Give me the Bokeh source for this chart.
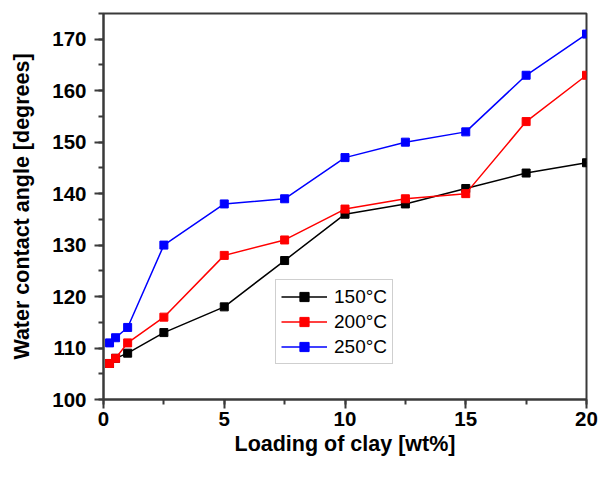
from bokeh.plotting import figure
from bokeh.models import SingleIntervalTicker, Legend, LegendItem, Range1d
from bokeh.embed import file_html
from bokeh.resources import INLINE

loading = [0.25, 0.5, 1, 2.5, 5, 7.5, 10, 12.5, 15, 17.5, 20]
t150 = [107, 108, 109, 113, 118, 127, 136, 138, 141, 144, 146]
t200 = [107, 108, 111, 116, 128, 131, 137, 139, 140, 154, 163]
t250 = [111, 112, 114, 130, 138, 139, 147, 150, 152, 163, 171]
labels = ["150°C", "200°C", "250°C"]
colors = ["#000000", "#FF0000", "#0000FF"]

FONT = "Liberation Sans"
AX = "#3a3a3a"

p = figure(width=598, height=463, output_backend="svg", toolbar_location=None,
           x_range=Range1d(0, 20), y_range=Range1d(100, 175),
           min_border_left=103, min_border_right=12, min_border_top=13, min_border_bottom=64)
p.grid.visible = False
p.outline_line_color = AX
p.outline_line_width = 2
p.background_fill_color = "white"
p.border_fill_color = "white"

p.xaxis.ticker = SingleIntervalTicker(interval=5, num_minor_ticks=2)
p.yaxis.ticker = SingleIntervalTicker(interval=10, num_minor_ticks=2)

for ax in (p.xaxis[0], p.yaxis[0]):
    ax.axis_line_color = AX
    ax.axis_line_width = 2
    ax.major_tick_line_color = AX
    ax.minor_tick_line_color = AX
    ax.major_tick_line_width = 2
    ax.minor_tick_line_width = 2
    ax.major_tick_in = 0
    ax.major_tick_out = 9
    ax.minor_tick_in = 0
    ax.minor_tick_out = 5
    ax.major_label_text_font = FONT
    ax.major_label_text_font_style = "bold"
    ax.major_label_text_font_size = "20.5px"
    ax.major_label_text_color = "#000000"
    ax.axis_label_text_font = FONT
    ax.axis_label_text_font_style = "bold"
    ax.axis_label_text_font_size = "21.5px"
    ax.axis_label_text_color = "#000000"

p.xaxis.axis_label = "Loading of clay [wt%]"
p.yaxis.axis_label = "Water contact angle [degrees]"
p.xaxis.major_label_standoff = 3
p.xaxis.axis_label_standoff = 3
p.yaxis.major_label_standoff = 8
p.yaxis.axis_label_standoff = 15

items = []
for lab, ys, c in zip(labels, [t150, t200, t250], colors):
    r1 = p.line(loading, ys, line_color=c, line_width=1.5)
    r2 = p.scatter(loading, ys, marker="square", size=8, fill_color=c, line_color=c)
    items.append(LegendItem(label=lab, renderers=[r1, r2]))

legend = Legend(items=items, location=(172, 35))
legend.label_text_font = FONT
legend.label_text_font_size = "19px"
legend.label_text_color = "#000000"
legend.glyph_width = 46
legend.glyph_height = 23
legend.label_height = 23
legend.spacing = 2
legend.padding = 5
legend.margin = 0
legend.label_standoff = 7
legend.border_line_color = "#a0a0a0"
legend.border_line_width = 1.5
legend.background_fill_alpha = 1.0
p.add_layout(legend, "center")

open("out.html", "w").write(file_html(p, INLINE))
